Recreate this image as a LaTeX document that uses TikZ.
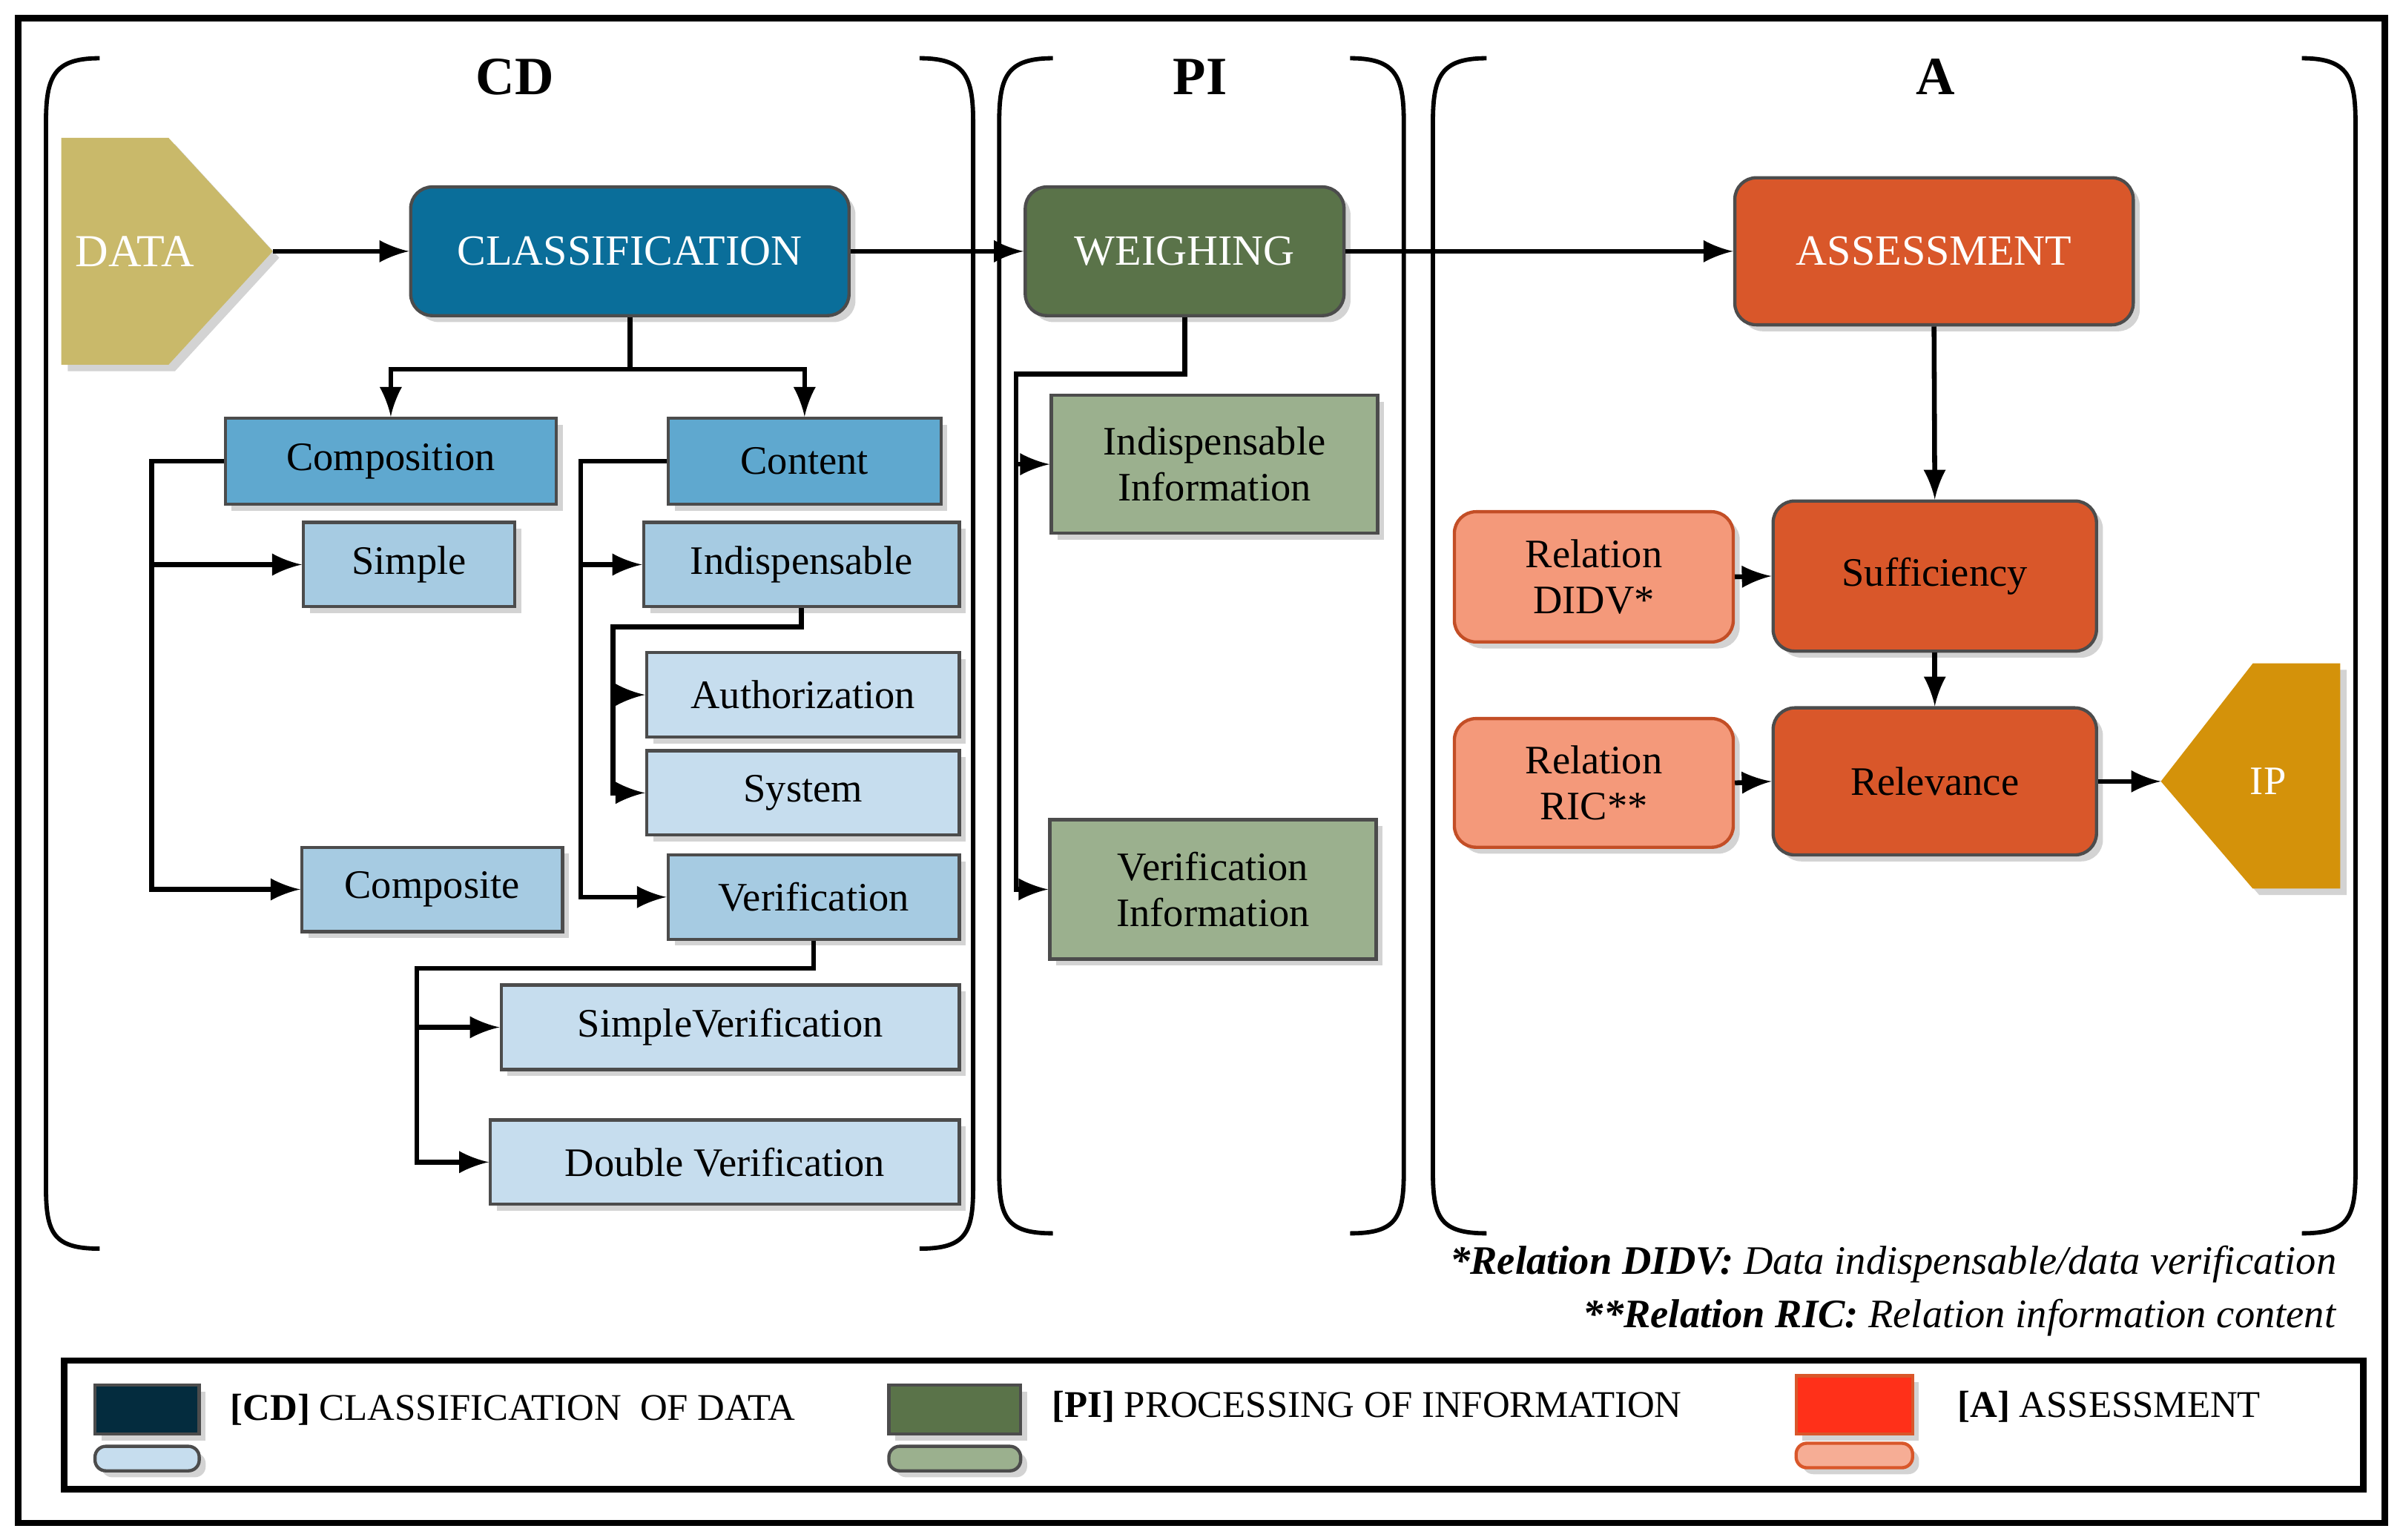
\documentclass[tikz,border=0pt]{standalone}
\usepackage{fontspec}
\setmainfont{Liberation Serif}
\usetikzlibrary{calc,shadows}
\definecolor{cls}{HTML}{0A6E9A}
\definecolor{cdA}{HTML}{5FA8CF}
\definecolor{cdB}{HTML}{A6CBE2}
\definecolor{cdC}{HTML}{C6DDEE}
\definecolor{piA}{HTML}{5A7349}
\definecolor{piB}{HTML}{9BB08E}
\definecolor{aA}{HTML}{D9572A}
\definecolor{aB}{HTML}{F4997A}
\definecolor{dat}{HTML}{C9B96A}
\definecolor{ipc}{HTML}{D4920A}
\begin{document}
\begin{tikzpicture}[x=0.01cm,y=-0.01cm,
 bx/.style={draw=black!70,line width=0.6pt,inner sep=0pt,align=center,font=\fontsize{7.5}{8.5}\selectfont,drop shadow={shadow xshift=1.2pt,shadow yshift=-1.2pt,opacity=0.35}},
 rbx/.style={bx,rounded corners=4pt},
 arr/.style={-latex,line width=0.9pt},
 ln/.style={line width=0.9pt},
 brk/.style={line width=0.8pt},
 hd/.style={font=\bfseries\fontsize{10}{12}\selectfont}]
\useasboundingbox (0,0) rectangle (1568,1005);
\draw[line width=1.2pt] (12,12) rectangle (1556,994);
% brackets
\foreach \l/\r/\b in {30/635/815,652/916/805,935/1537/805}{
 \draw[brk] (\l+35,38) .. controls (\l+5,38) and (\l,50) .. (\l,80) -- (\l,\b-40) .. controls (\l,\b-10) and (\l+5,\b) .. (\l+35,\b);
 \draw[brk] (\r-35,38) .. controls (\r-5,38) and (\r,50) .. (\r,80) -- (\r,\b-40) .. controls (\r,\b-10) and (\r-5,\b) .. (\r-35,\b);
}
\node[hd] (hcd) at (336,50) {CD};
\node[hd] (hpi) at (783,50) {PI};
\node[hd] (ha) at (1263,50) {A};
% DATA and IP
\fill[dat,drop shadow={shadow xshift=1.2pt,shadow yshift=-1.2pt,opacity=0.35}] (40,90) -- (110,90) -- (178,164) -- (110,238) -- (40,238) -- cycle;
\node[text=white,font=\fontsize{8.5}{10}\selectfont] (data) at (88,164) {DATA};
\coordinate (dataR) at (178,164);
\fill[ipc,drop shadow={shadow xshift=1.2pt,shadow yshift=-1.2pt,opacity=0.35}] (1410,510) -- (1470,433) -- (1527,433) -- (1527,580) -- (1470,580) -- cycle;
\node[text=white,font=\fontsize{7.5}{9}\selectfont] (ip) at (1480,510) {IP};
\coordinate (ipL) at (1410,510);
% main boxes
\node[rbx,fill=cls,text=white,minimum width=286*0.01cm,minimum height=84*0.01cm,font=\fontsize{8}{9}\selectfont] (cl) at (411,164) {CLASSIFICATION};
\node[rbx,fill=piA,text=white,minimum width=208*0.01cm,minimum height=84*0.01cm,font=\fontsize{8}{9}\selectfont] (we) at (773,164) {WEIGHING};
\node[rbx,fill=aA,text=white,minimum width=260*0.01cm,minimum height=96*0.01cm,font=\fontsize{8}{9}\selectfont] (as) at (1262,164) {ASSESSMENT};
% CD boxes
\node[bx,fill=cdA,minimum width=216*0.01cm,minimum height=56*0.01cm] (comp) at (255,301) {Composition};
\node[bx,fill=cdA,minimum width=178*0.01cm,minimum height=56*0.01cm] (cont) at (525,301) {Content};
\node[bx,fill=cdB,minimum width=138*0.01cm,minimum height=55*0.01cm] (simp) at (267,368.5) {Simple};
\node[bx,fill=cdB,minimum width=206*0.01cm,minimum height=55*0.01cm] (ind) at (523,368.5) {Indispensable};
\node[bx,fill=cdC,minimum width=204*0.01cm,minimum height=55*0.01cm] (auth) at (524,453.5) {Authorization};
\node[bx,fill=cdC,minimum width=204*0.01cm,minimum height=55*0.01cm] (sys) at (524,517.5) {System};
\node[bx,fill=cdB,minimum width=170*0.01cm,minimum height=55*0.01cm] (cpst) at (282,580.5) {Composite};
\node[bx,fill=cdB,minimum width=190*0.01cm,minimum height=55*0.01cm] (ver) at (531,585.5) {Verification};
\node[bx,fill=cdC,minimum width=299*0.01cm,minimum height=55*0.01cm] (sver) at (476.5,670.5) {SimpleVerification};
\node[bx,fill=cdC,minimum width=306*0.01cm,minimum height=55*0.01cm] (dver) at (473,758.5) {Double Verification};
% PI boxes
\node[bx,fill=piB,minimum width=213*0.01cm,minimum height=90*0.01cm] (ii) at (792.5,303) {Indispensable\\Information};
\node[bx,fill=piB,minimum width=213*0.01cm,minimum height=91*0.01cm] (vi) at (791.5,580.5) {Verification\\Information};
% A boxes
\node[rbx,draw=aA!90!black,fill=aB,minimum width=182*0.01cm,minimum height=85*0.01cm] (didv) at (1040,376.5) {Relation\\DIDV*};
\node[rbx,draw=aA!90!black,fill=aB,minimum width=182*0.01cm,minimum height=84*0.01cm] (ric) at (1040,511) {Relation\\RIC**};
\node[rbx,fill=aA,minimum width=211*0.01cm,minimum height=98*0.01cm] (suf) at (1262.5,376) {Sufficiency};
\node[rbx,fill=aA,minimum width=211*0.01cm,minimum height=96*0.01cm] (rel) at (1262.5,510) {Relevance};
% connectors
\draw[arr] (dataR) -- (cl.west);
\draw[arr] (cl.east) -- (we.west);
\draw[arr] (we.east) -- (as.west);
\coordinate (cj) at ($(cl.south)+(0,34)$);
\draw[arr] (cl.south) -- (cj) -| (comp.north);
\draw[arr] (cj) -| (cont.north);
\coordinate (ca) at ($(comp.west)+(-47,0)$);
\draw[arr] (comp.west) -- (ca) |- (cpst.west);
\draw[arr] (ca) |- (simp.west);
\coordinate (cb) at ($(cont.west)+(-56,0)$);
\draw[arr] (cont.west) -- (cb) |- (ver.west);
\draw[arr] (cb) |- (ind.west);
\coordinate (ia) at ($(ind.south)+(-123,12)$);
\draw[arr] (ind.south) |- (ia) |- (sys.west);
\draw[arr] (ia) |- (auth.west);
\coordinate (va) at ($(ver.south)+(-259,18)$);
\draw[arr] (ver.south) |- (va) |- (dver.west);
\draw[arr] (va) |- (sver.west);
\coordinate (wa) at ($(we.south)+(-110,37)$);
\draw[arr] (we.south) |- (wa) |- (vi.west);
\draw[arr] (wa) |- (ii.west);
\draw[arr] (as.south) -- (suf.north);
\draw[arr] (didv.east) -- (suf.west);
\draw[arr] (suf.south) -- (rel.north);
\draw[arr] (ric.east) -- (rel.west);
\draw[arr] (rel.east) -- (ipL);
% footnotes
\node[anchor=east,font=\fontsize{7.5}{9}\selectfont] (f1) at (1537,825) {\textbf{\textit{*Relation DIDV:}} \textit{Data indispensable/data verification}};
\node[anchor=east,font=\fontsize{7.5}{9}\selectfont] (f2) at (1537,860) {\textbf{\textit{**Relation RIC:}} \textit{Relation information content}};
% legend
\draw[line width=1.2pt] (42,888) rectangle (1542,972);
\node[bx,fill=cls!40!black,minimum width=68*0.01cm,minimum height=32*0.01cm] (l1) at (96,920) {};
\node[bx,fill=cdC,minimum width=68*0.01cm,minimum height=16*0.01cm,rounded corners=2pt] (l1b) at (96,952) {};
\node[anchor=west,font=\fontsize{7}{8}\selectfont] (t1) at (138,920) {\textbf{[CD]} CLASSIFICATION~~OF DATA};
\node[bx,fill=piA,minimum width=86*0.01cm,minimum height=32*0.01cm] (l2) at (623,920) {};
\node[bx,fill=piB,minimum width=86*0.01cm,minimum height=16*0.01cm,rounded corners=2pt] (l2b) at (623,952) {};
\node[anchor=west,font=\fontsize{7}{8}\selectfont] (t2) at (674,918) {\textbf{[PI]} PROCESSING OF INFORMATION};
\node[bx,draw=aA,fill=orange!20!red!90!white,minimum width=76*0.01cm,minimum height=38*0.01cm] (l3) at (1210,917) {};
\node[bx,draw=aA,fill=aB!80!white,minimum width=76*0.01cm,minimum height=16*0.01cm,rounded corners=2pt] (l3b) at (1210,950) {};
\node[anchor=west,font=\fontsize{7}{8}\selectfont] (t3) at (1265,918) {\textbf{[A]} ASSESSMENT};
\end{tikzpicture}
\end{document}
